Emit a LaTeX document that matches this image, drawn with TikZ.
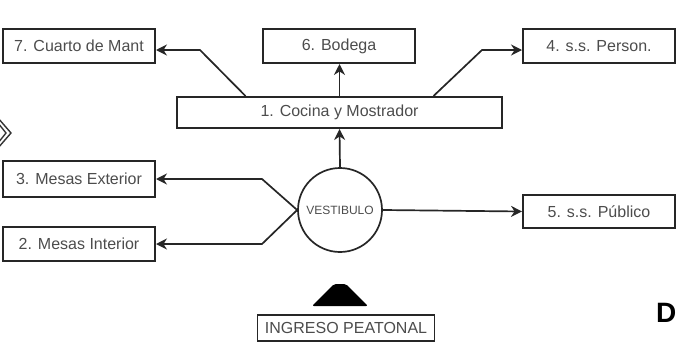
\documentclass[tikz,border=0pt]{standalone}
\usepackage{fontspec}
\setmainfont{Liberation Sans}
\usetikzlibrary{arrows.meta}

\tikzset{
  caja/.style={draw=black!85, line width=2pt, inner sep=0pt, minimum width=152pt,
    minimum height=34pt, text=black!70, font=\fontsize{16}{18}\selectfont},
  flecha/.style={draw=black!85, line width=1.7pt, -{Stealth[length=11pt,width=11pt]}},
}

\begin{document}
\begin{tikzpicture}[x=1pt,y=-1pt]
  \useasboundingbox (0,0) rectangle (677,343);
  \clip (0,0) rectangle (677,343);

  % recintos
  \node[caja] (mant) at (79,46) {7. Cuarto de Mant};
  \node[caja] (bod) at (339,46) {6. Bodega};
  \node[caja] (pers) at (599,46) {4. s.s. Person.};
  \node[caja, minimum width=325pt, minimum height=31pt] (coc) at (339.5,112.5) {1. Cocina y Mostrador};
  \node[caja, minimum height=36pt] (mext) at (79,179) {3. Mesas Exterior};
  \node[caja] (mint) at (79,244) {2. Mesas Interior};
  \node[caja, minimum height=33pt] (pub) at (599,211.5) {5. s.s. Público};
  \node[caja, circle, minimum size=84pt, minimum width=84pt, line width=1.7pt,
    font=\fontsize{12}{14}\selectfont] (vest) at (340,210) {VESTIBULO};
  \node[caja, minimum width=177pt, minimum height=26pt, line width=1.5pt] (ing) at (346,328) {INGRESO PEATONAL};

  % circulaciones
  \draw[flecha] (vest.north) -- (coc.south);
  \draw[flecha] (coc.north) -- (coc.north |- bod.south);
  \draw[flecha] ([xshift=-94pt]coc.north) -- (200,50) -- ([yshift=-4pt]mant.east);
  \draw[flecha] ([xshift=94pt]coc.north) -- (482,50) -- ([yshift=-4pt]pers.west);
  \draw[flecha] (vest.west) -- (262,179) -- (mext.east);
  \draw[flecha] (vest.west) -- (262,244) -- (mint.east);
  \draw[flecha] (vest.east) -- (pub.west);

  % acceso
  \fill[black, rounded corners=2pt] (312,306) -- (334,284) -- (346,284) -- (368,306) -- cycle;

  % restos del plano
  \draw[black!80, line width=1.4pt] (-2,118) -- (11,133) -- (-2,148);
  \draw[black!80, line width=1.4pt] (-2,123) -- (6,133) -- (-2,143);
  \node[anchor=base west, font=\fontsize{28}{30}\selectfont\bfseries, inner sep=0pt] (tit) at (656,322) {D};
\end{tikzpicture}
\end{document}
